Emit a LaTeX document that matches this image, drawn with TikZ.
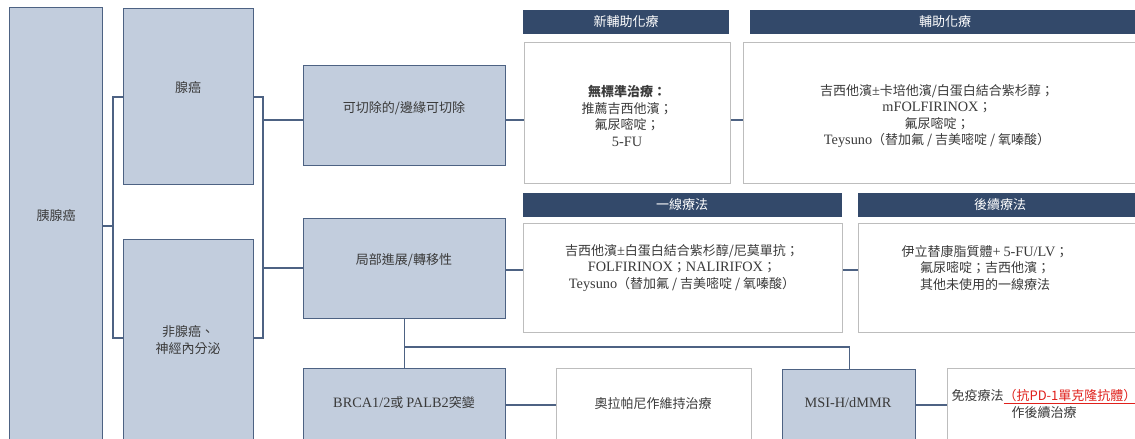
\documentclass[tikz,border=0pt]{standalone}
\usepackage{fontspec}
\setmainfont{Noto Sans CJK TC}
\newfontfamily\lat[Scale=1.1]{Liberation Serif}
\usetikzlibrary{calc}
\definecolor{boxfill}{HTML}{C2CDDD}
\definecolor{boxline}{HTML}{4D6283}
\definecolor{hdr}{HTML}{33496A}
\definecolor{gbox}{HTML}{BDBDBD}
\definecolor{txt}{HTML}{3A3A3A}
\definecolor{redtxt}{HTML}{E0201B}
\tikzset{
  bluebox/.style={draw=boxline, fill=boxfill, line width=1.4pt, anchor=north west, inner sep=0pt},
  graybox/.style={draw=gbox, fill=white, line width=1.4pt, anchor=north west, inner sep=0pt},
  hdrbar/.style={fill=hdr, anchor=north west, inner sep=0pt},
  hdrtxt/.style={text=white, inner sep=0pt, font=\fontsize{13}{15}\selectfont},
  body/.style={text=txt, align=center, inner sep=0pt, font=\fontsize{13}{16.5}\selectfont},
  conn/.style={draw=boxline, line width=1.4pt},
}
\begin{document}
\begin{tikzpicture}[x=1pt,y=-1pt]
\clip (0,0) rectangle (1135,439);
\fill[white] (0,0) rectangle (1135,439);
% blue boxes
\node[bluebox, minimum width=93pt, minimum height=460pt] (pan) at (9,7) {};
\node[bluebox, minimum width=130pt, minimum height=176pt] (aden) at (123,8) {};
\node[bluebox, minimum width=130pt, minimum height=250pt] (nonad) at (123,239) {};
\node[bluebox, minimum width=202pt, minimum height=100pt] (res) at (303,65) {};
\node[bluebox, minimum width=202pt, minimum height=100pt] (loc) at (303,218) {};
\node[bluebox, minimum width=202pt, minimum height=100pt] (brca) at (303,368) {};
\node[bluebox, minimum width=133pt, minimum height=100pt] (msi) at (782,369) {};
% headers
\node[hdrbar, minimum width=206pt, minimum height=24pt] (neoH) at (523,10) {};
\node[hdrbar, minimum width=400pt, minimum height=24pt] (adjH) at (750,10) {};
\node[hdrbar, minimum width=319pt, minimum height=24pt] (firstH) at (523,193) {};
\node[hdrbar, minimum width=300pt, minimum height=24pt] (laterH) at (858,193) {};
% gray boxes
\node[graybox, minimum width=206pt, minimum height=141pt] (neoB) at (524,42) {};
\node[graybox, minimum width=410pt, minimum height=141pt] (adjB) at (743,42) {};
\node[graybox, minimum width=319pt, minimum height=109pt] (firstB) at (523,223) {};
\node[graybox, minimum width=300pt, minimum height=109pt] (laterB) at (858,223) {};
\node[graybox, minimum width=195pt, minimum height=100pt] (olaB) at (556,368) {};
\node[graybox, minimum width=210pt, minimum height=100pt] (immB) at (947,368) {};
% connectors
\coordinate (busLm) at (113,226);
\coordinate (busL1) at (113,97);
\coordinate (busL2) at (113,338);
\coordinate (busR1) at (263,97);
\coordinate (busR2) at (263,338);
\coordinate (r1) at (263,120);
\coordinate (r2) at (263,268);
\coordinate (c1) at (505,120);
\coordinate (c2) at (505,270);
\coordinate (k) at (404,347);
\coordinate (c3) at (505,405);
\draw[conn] (busLm -| pan.east) -- (busLm);
\draw[conn] (busL1 -| aden.west) -- (busL1) -- (busL2) -- (busL2 -| nonad.west);
\draw[conn] (busR1 -| aden.east) -- (busR1) -- (busR2) -- (busR2 -| nonad.east);
\draw[conn] (r1) -- (r1 -| res.west);
\draw[conn] (r2) -- (r2 -| loc.west);
\draw[conn] (c1 -| res.east) -- (c1 -| neoB.west);
\draw[conn] (c1 -| neoB.east) -- (c1 -| adjB.west);
\draw[conn] (c2 -| loc.east) -- (c2 -| firstB.west);
\draw[conn] (c2 -| firstB.east) -- (c2 -| laterB.west);
\draw[conn] (loc.south) -- (brca.north);
\draw[conn] (k) -| (msi.north);
\draw[conn] (c3 -| brca.east) -- (c3 -| olaB.west);
\draw[conn] (c3 -| msi.east) -- (c3 -| immB.west);
% texts
\node[body] (tpan) at (56,216) {胰腺癌};
\node[body] (taden) at (188,88) {腺癌};
\node[body] (tnonad) at (188,340) {非腺癌、\\神經內分泌};
\node[body] (tres) at (404,108) {可切除的/邊緣可切除};
\node[body] (tloc) at (404,260) {局部進展/轉移性};
\node[body] (tbrca) at (404,403) {{\lat BRCA1/2}或 {\lat PALB2}突變};
\node[body] (tmsi) at (848,403) {{\lat MSI-H/dMMR}};
\node[hdrtxt] (tneoH) at (626,22) {新輔助化療};
\node[hdrtxt] (tadjH) at (945,22) {輔助化療};
\node[hdrtxt] (tfirstH) at (682,205) {一線療法};
\node[hdrtxt] (tlaterH) at (1000,205) {後續療法};
\node[body] (tneoB) at (627,116) {{\bfseries 無標準治療：}\\推薦吉西他濱；\\氟尿嘧啶；\\{\lat 5-FU}};
\node[body] (tadjB) at (937,116) {吉西他濱{\lat ±}卡培他濱/白蛋白結合紫杉醇；\\{\lat mFOLFIRINOX}；\\氟尿嘧啶；\\{\lat Teysuno}（替加氟 / 吉美嘧啶 / 氧嗪酸）};
\node[body] (tfirstB) at (682,268) {吉西他濱{\lat ±}白蛋白結合紫杉醇/尼莫單抗；\\{\lat FOLFIRINOX}；{\lat NALIRIFOX}；\\{\lat Teysuno}（替加氟 / 吉美嘧啶 / 氧嗪酸）};
\node[body] (tlaterB) at (985,268) {伊立替康脂質體{\lat +} {\lat 5-FU/LV}；\\氟尿嘧啶；吉西他濱；\\其他未使用的一線療法};
\node[body] (tolaB) at (653,404) {奧拉帕尼作維持治療};
\node[body] (timmB) at (1044,404) {免疫療法{\color{redtxt}\underline{（抗PD-1單克隆抗體）}}\\作後續治療};
\end{tikzpicture}
\end{document}
